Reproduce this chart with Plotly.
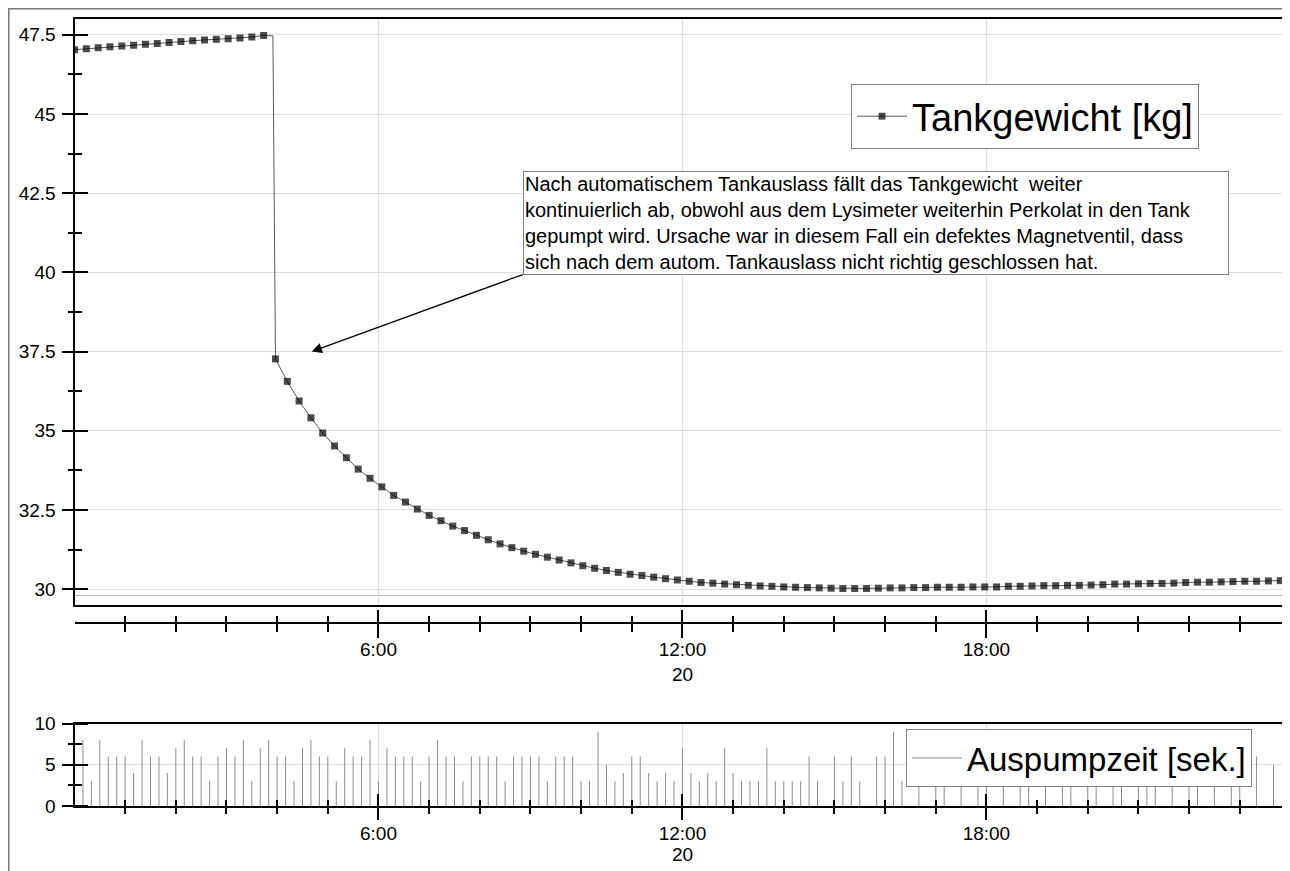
import plotly.graph_objects as go
import pandas as pd

# ---------------- data ----------------
DAY = "2011-07-20"
TANK_STEP_MIN = 14          # marker spacing of the tank weight series
PUMP_STEP_MIN = 10          # one pump event every 10 minutes, first at 0:10

tank_kg = [
    47.03, 47.06, 47.09, 47.12, 47.15, 47.17, 47.20, 47.23, 47.26, 47.29,
    47.31, 47.34, 47.36, 47.38, 47.40, 47.43, 47.48,
    37.27, 36.56, 35.94, 35.41, 34.93, 34.52, 34.15, 33.79, 33.50, 33.23,
    32.96, 32.75, 32.53, 32.33, 32.16, 31.99, 31.85, 31.70, 31.56, 31.43,
    31.31, 31.20, 31.10, 31.01, 30.92, 30.83, 30.74, 30.66, 30.59, 30.53, 30.47,
    30.43, 30.38, 30.33, 30.29, 30.25, 30.21, 30.19, 30.16, 30.14, 30.12,
    30.10, 30.09, 30.07, 30.06, 30.05, 30.04, 30.03, 30.02, 30.02, 30.02,
    30.03, 30.04, 30.04, 30.05, 30.05, 30.06, 30.06, 30.06, 30.07, 30.07,
    30.07, 30.09, 30.09, 30.10, 30.11, 30.11, 30.12, 30.12, 30.13, 30.14,
    30.16, 30.16, 30.17, 30.18, 30.18, 30.19, 30.21, 30.22, 30.22, 30.23,
    30.24, 30.25, 30.25, 30.26, 30.27,
]
# extra (unmarked) line point where the weight drops after the tank outlet
drop_min = [235]
drop_kg = [47.47]

pump_sec = [
    8, 3, 8, 6, 6, 6, 4, 8, 6, 6, 4, 7, 8, 6, 6, 3, 6, 7, 6, 8,
    3, 7, 8, 6, 6, 3, 7, 8, 6, 6, 3, 7, 6, 6, 8, 3, 7, 6, 6, 6,
    3, 6, 8, 6,
    6, 3, 6, 6, 6, 6, 3, 6, 6, 6, 6, 3, 6, 6, 6, 3, 3, 9, 5, 3,
    4, 6, 6, 4, 3, 4, 3, 7, 4, 3, 4, 3, 7, 4, 3, 3, 3, 7, 3, 3,
    3, 3, 6, 3, 0, 6, 3, 6, 3, 0, 6,
    6, 9, 3, 0, 6, 0, 6, 6, 0, 6, 0, 6, 6, 0, 6, 0, 6, 6, 0, 6,
    0, 6, 6, 0, 6, 6, 0, 6, 6, 0, 6, 6, 6, 0, 6, 0, 6, 3, 0, 6,
    0, 6, 6, 0, 6, 0, 5, 0,
]

y_top_ticks = [30, 32.5, 35, 37.5, 40, 42.5, 45, 47.5]
y_top_ticktext = ["30", "32.5", "35", "37.5", "40", "42.5", "45", "47.5"]
y_top_minor = [31.25, 33.75, 36.25, 38.75, 41.25, 43.75, 46.25]
y_bot_ticks = [0, 5, 10]
y_bot_ticktext = ["0", "5", "10"]
y_bot_minor = [2.5, 7.5]
x_tick_hours = [6, 12, 18]
x_tick_text = ["6:00", "12:00", "18:00"]
x_date_text = ["", "20", ""]

legend_tank = "Tankgewicht [kg]"
legend_pump = "Auspumpzeit [sek.]"
note = ("Nach automatischem Tankauslass fällt das Tankgewicht  weiter<br>"
        "kontinuierlich ab, obwohl aus dem Lysimeter weiterhin Perkolat in den Tank<br>"
        "gepumpt wird. Ursache war in diesem Fall ein defektes Magnetventil, dass<br>"
        "sich nach dem autom. Tankauslass nicht richtig geschlossen hat.")

# ---------------- derived ----------------
base = pd.Timestamp(DAY)
def t(minutes):
    return base + pd.Timedelta(minutes=minutes)

tank_min = [i * TANK_STEP_MIN for i in range(len(tank_kg))]
pts = sorted([(m, v, True) for m, v in zip(tank_min, tank_kg)] +
             [(m, v, False) for m, v in zip(drop_min, drop_kg)])
line_t = [t(m) for m, _, _ in pts]
line_v = [v for _, v, _ in pts]
msize = [7 if shown else 0 for _, _, shown in pts]

stem_x, stem_y = [], []
for i, v in enumerate(pump_sec):
    tt = t((i + 1) * PUMP_STEP_MIN)
    stem_x += [tt, tt, None]
    stem_y += [0, v, None]

x_range = [t(0), t(23 * 60 + 56)]
x_major = [t(h * 60) for h in x_tick_hours]
x_hours = [t(h * 60) for h in range(1, 24)]
Y_TOP_RANGE = [29.5, 48]
Y_BOT_RANGE = [0, 10]

# page body has an 8px margin -> figure coordinates = picture pixels - 8
OFF = 8
W, H = 1290 - OFF, 871 - OFF
def fx(px):
    return (px - OFF) / W
def fy(py):
    return 1 - (py - OFF) / H

X_LEFT, X_RIGHT = 74.5, 1287
XD = [fx(X_LEFT), fx(X_RIGHT)]
YD_TOP = [fy(605), fy(19)]
YD_BOT = [fy(806), fy(723.5)]
TOP_AXIS_PX = 623
BOT_AXIS_PX = 806

FONT = "Liberation Sans, Arial, sans-serif"
GRID = "#dedede"
tickfont = dict(family=FONT, size=19, color="black")
TK = dict(tickwidth=2, tickcolor="black")

def free_x(over, pos_px, vals, ticklen, text=None, standoff=0):
    d = dict(type="date", range=x_range, domain=XD, overlaying=over,
             anchor="free", position=fy(pos_px), side="bottom",
             showline=False, showgrid=False, zeroline=False,
             tickmode="array", tickvals=vals,
             ticks="outside" if ticklen else "", ticklen=max(ticklen, 1), **TK)
    if text is not None:
        d.update(ticktext=text, showticklabels=True, tickfont=tickfont,
                 ticklabelstandoff=standoff)
    else:
        d.update(showticklabels=False)
    return d

def free_y(over, pos_px, rng, vals, ticklen, text=None, standoff=0):
    d = dict(overlaying=over, anchor="free", position=fx(pos_px), side="left",
             range=rng, tickmode="array", tickvals=vals,
             ticks="outside", ticklen=ticklen, **TK,
             showline=False, showgrid=False, zeroline=False)
    if text is not None:
        d.update(ticktext=text, showticklabels=True, tickfont=tickfont,
                 ticklabelstandoff=standoff)
    else:
        d.update(showticklabels=False)
    return d

fig = go.Figure()

fig.add_trace(go.Scatter(x=line_t, y=line_v, mode="lines+markers",
                         name=legend_tank,
                         line=dict(color="#5a5a5a", width=1),
                         marker=dict(symbol="square", size=msize, color="black",
                                     line=dict(width=0)),
                         xaxis="x", yaxis="y", legend="legend"))

fig.add_trace(go.Scatter(x=stem_x, y=stem_y, mode="lines",
                         name=legend_pump,
                         line=dict(color="#8c8c8c", width=1),
                         xaxis="x2", yaxis="y2", legend="legend2"))

# empty helper traces so that the tick-only overlay axes get drawn
for xa, ya in [("x3", "y"), ("x4", "y"), ("x6", "y"), ("x", "y3"), ("x", "y5"),
               ("x5", "y2"), ("x7", "y2"), ("x2", "y4"), ("x2", "y6")]:
    fig.add_trace(go.Scatter(x=[], y=[], xaxis=xa, yaxis=ya, showlegend=False,
                             hoverinfo="skip"))

fig.update_layout(
    width=W, height=H,
    margin=dict(l=0, r=0, t=0, b=0, autoexpand=False),
    paper_bgcolor="white", plot_bgcolor="white",
    font=dict(family=FONT, color="black"),
    showlegend=True,
    # ---- top plot frame + grid ----
    xaxis=dict(type="date", range=x_range, domain=XD, anchor="y",
               showline=True, mirror=True, linecolor="black", linewidth=2,
               ticks="", showticklabels=False, tickmode="array", tickvals=x_major,
               showgrid=True, gridcolor=GRID, gridwidth=1, zeroline=False),
    yaxis=dict(domain=YD_TOP, range=Y_TOP_RANGE, anchor="x",
               showline=True, mirror=True, linecolor="black", linewidth=2,
               tickmode="array", tickvals=y_top_ticks,
               ticks="", showticklabels=False,
               showgrid=True, gridcolor=GRID, zeroline=False),
    # crossing ticks of the top y axis (major with labels / minor)
    yaxis3=free_y("y", X_LEFT + 13, Y_TOP_RANGE, y_top_ticks, 26,
                  y_top_ticktext, 2),
    yaxis5=free_y("y", X_LEFT + 7, Y_TOP_RANGE, y_top_minor, 14),
    # ---- top plot x axis below the frame ----
    xaxis3=dict(free_x("x", TOP_AXIS_PX, x_major, 0, x_tick_text, 9),
                showline=True, linecolor="black", linewidth=2),
    xaxis4=free_x("x", TOP_AXIS_PX - 14, x_major, 28, x_date_text, 20),
    xaxis6=free_x("x", TOP_AXIS_PX - 8, x_hours, 16),
    # ---- bottom plot ----
    xaxis2=dict(type="date", range=x_range, domain=XD, anchor="y2",
                showline=True, mirror=True, linecolor="black", linewidth=2,
                tickmode="array", tickvals=x_major, ticktext=x_tick_text,
                ticks="", tickfont=tickfont, ticklabelstandoff=9,
                showgrid=True, gridcolor=GRID, zeroline=False),
    xaxis5=free_x("x2", BOT_AXIS_PX - 13, x_major, 26, x_date_text, 18),
    xaxis7=free_x("x2", BOT_AXIS_PX - 7, x_hours, 14),
    yaxis2=dict(domain=YD_BOT, range=Y_BOT_RANGE, anchor="x2",
                showline=True, mirror=True, linecolor="black", linewidth=2,
                tickmode="array", tickvals=y_bot_ticks,
                ticks="", showticklabels=False,
                showgrid=True, gridcolor=GRID, zeroline=False),
    yaxis4=free_y("y2", X_LEFT + 13, Y_BOT_RANGE, y_bot_ticks, 26,
                  y_bot_ticktext, 2),
    yaxis6=free_y("y2", X_LEFT + 7, Y_BOT_RANGE, y_bot_minor, 14),
    legend=dict(x=fx(851), y=fy(84), xanchor="left", yanchor="top",
                bgcolor="white", bordercolor="#808080", borderwidth=1,
                font=dict(family=FONT, size=38, color="black"),
                itemwidth=50, tracegroupgap=0),
    legend2=dict(x=fx(906), y=fy(729), xanchor="left", yanchor="top",
                 bgcolor="white", bordercolor="#808080", borderwidth=1,
                 font=dict(family=FONT, size=33, color="black"),
                 itemwidth=50, tracegroupgap=0),
)

# annotation with arrow (head at 37.5 kg)
fig.add_annotation(
    x=t(4 * 60 + 41), y=37.5, xref="x", yref="y",
    ax=211, ay=-77, axref="pixel", ayref="pixel",
    text=note, showarrow=True, arrowhead=2, arrowsize=1.7, arrowwidth=1.2,
    arrowcolor="black", xanchor="left", yanchor="bottom", align="left",
    width=702, bgcolor="white", bordercolor="#808080",
    borderwidth=1, borderpad=1,
    font=dict(family=FONT, size=20, color="black"),
)

# faint reference line just under 30 kg and outer picture border
fig.add_shape(type="line", xref="x domain", yref="y", x0=0, x1=1, y0=29.8, y1=29.8,
              line=dict(color="#b4b4b4", width=1), layer="below")
fig.add_shape(type="rect", xref="paper", yref="paper",
              x0=0, x1=1.05, y0=-0.05, y1=1,
              line=dict(color="#7a7a7a", width=3), layer="below")

fig.write_html("out.html")
